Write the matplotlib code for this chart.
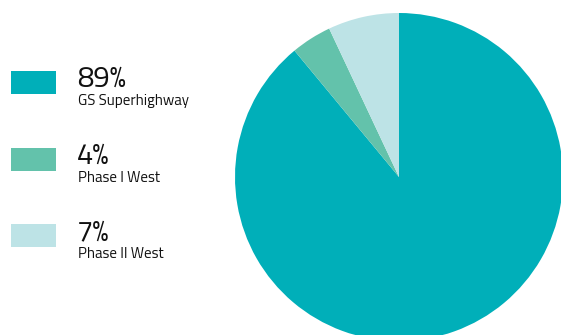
import matplotlib
matplotlib.use("Agg")
import matplotlib.pyplot as plt
from matplotlib.patches import Rectangle

categories = ["GS Superhighway", "Phase I West", "Phase II West"]
shares = [89, 4, 7]
colors = ["#00AFB9", "#63C2AB", "#BDE3E6"]

FONT = ["Titillium Web", "DejaVu Sans"]

W, H = 561, 335
fig = plt.figure(figsize=(W / 100, H / 100), dpi=100)
ax = fig.add_axes([0, 0, 1, 1])

# pie, partly running off the right and bottom edges
cx, cy, r = 399, H - 177, 164
ax.pie(shares, colors=colors, startangle=90, counterclock=False,
       radius=r, center=(cx, cy), wedgeprops=dict(linewidth=0))
ax.set_xlim(0, W)
ax.set_ylim(0, H)
ax.set_aspect("equal")
ax.axis("off")

# legend: swatch, big percentage and name for each slice
row_top = [71, 148, 224]
for top, cat, val, col in zip(row_top, categories, shares, colors):
    ax.add_patch(Rectangle((11, H - top - 23), 45, 23, facecolor=col, edgecolor="none"))
    ax.text(77, H - (top + 16), f"{val}%", fontsize=21, family=FONT,
            fontweight="normal", color="#111111", va="baseline", ha="left")
    ax.text(78, H - (top + 34), cat, fontsize=10.8, family=FONT,
            color="#111111", va="baseline", ha="left")

fig.savefig("out.png", dpi=100)
